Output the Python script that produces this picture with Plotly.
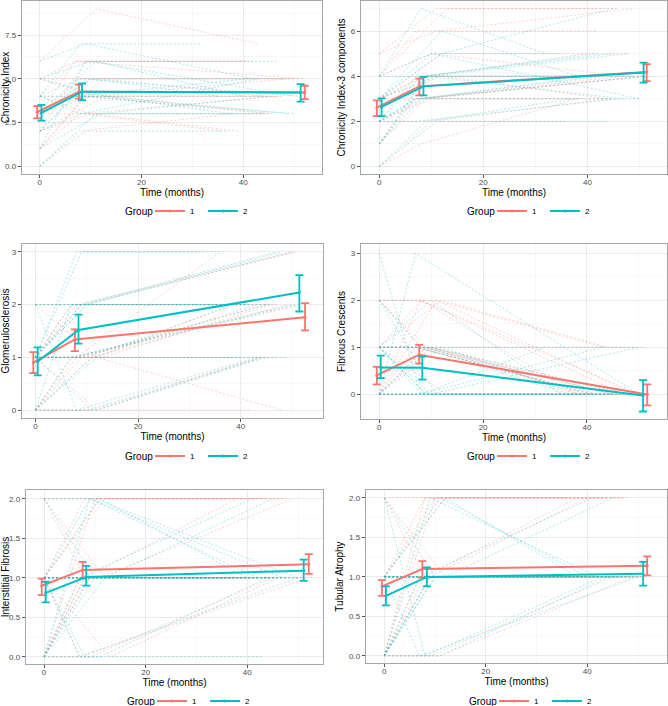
import plotly.graph_objects as go

# ---------------- data ----------------
panel_titles = ["Chronicity Index", "Chronicity Index-3 components", "Glomerulosclerosis",
                "Fibrous Crescents", "Interstitial Fibrosis", "Tubular Atrophy"]
groups = ["1", "2"]
legend_title = "Group"
x_title = "Time (months)"

# individual patient biopsy times (months)
times_g1 = [[0, 11, 43], [0, 7, 42], [0, 8, 50], [0, 10, 39], [0, 9, 45], [0, 12, 48],
            [0, 7, 41], [0, 8, 38], [0, 13, 46], [0, 9, 51], [0, 10, 44], [0, 8, 47],
            [0, 9, 40], [0, 11, 49], [0, 8, 36], [0, 12, 44], [0, 7, 52], [0, 10, 47]]
times_g2 = [[0, 8, 32], [0, 9, 42], [0, 7, 50], [0, 10, 48], [0, 12, 45], [0, 8, 51],
            [0, 9, 37], [0, 11, 40], [0, 7, 46], [0, 13, 49], [0, 8, 43], [0, 10, 35],
            [0, 9, 47], [0, 12, 38], [0, 8, 45], [0, 10, 50], [0, 11, 44], [0, 7, 41]]

# individual patient scores per panel
ci_g1 = [[6, 9, 7], [5, 6, 6], [3, 5, 5], [2, 3, 2], [1, 4, 3], [4, 4, 4],
         [3, 6, 6], [0, 2, 3], [2, 4, 3], [5, 5, 5], [4, 3, 3], [1, 3, 4],
         [2, 6, 6], [5, 4, 5], [3, 3, 2], [1, 5, 4], [4, 6, 5], [3, 4, 4]]
ci_g2 = [[4, 7, 7], [6, 7, 5], [3, 4, 3], [2, 5, 5], [1, 3, 4], [4, 5, 4],
         [0, 2, 2], [3, 6, 4], [2, 4, 4], [5, 4, 3], [4, 3, 5], [3, 5, 4],
         [1, 6, 6], [4, 4, 3], [2, 3, 3], [5, 6, 4], [0, 3, 3], [3, 4, 5]]
ci3_g1 = [[5, 7, 7], [4, 6, 6], [3, 4, 4], [2, 3, 3], [1, 3, 3], [3, 5, 5],
          [2, 4, 4], [0, 1, 3], [4, 7, 7], [2, 3, 4], [0, 2, 3], [3, 3, 4],
          [1, 4, 5], [5, 6, 7], [2, 2, 2], [3, 4, 3], [1, 3, 4], [4, 5, 4]]
ci3_g2 = [[4, 7, 5], [3, 4, 5], [2, 3, 3], [1, 4, 5], [3, 5, 7], [2, 3, 4],
          [0, 2, 3], [3, 4, 4], [2, 2, 3], [4, 4, 4], [1, 3, 4], [3, 5, 5],
          [1, 4, 3], [3, 6, 4], [2, 4, 5], [4, 5, 3], [0, 2, 2], [2, 3, 4]]
gs_g1 = [[1, 1, 2], [0, 0, 0], [1, 2, 3], [1, 1, 2], [0, 1, 2], [2, 1, 0],
         [1, 2, 2], [0, 1, 1], [1, 1, 2], [1, 2, 3], [0, 0, 1], [1, 1, 1],
         [1, 2, 2], [0, 1, 2], [1, 1, 3], [1, 0, 1], [0, 1, 2], [2, 2, 2]]
gs_g2 = [[1, 3, 3], [2, 2, 2], [0, 1, 2], [1, 2, 3], [0, 0, 1], [1, 1, 2],
         [1, 3, 3], [0, 1, 1], [1, 2, 2], [1, 1, 1], [2, 0, 1], [1, 2, 2],
         [1, 2, 3], [0, 1, 2], [1, 1, 2], [2, 2, 3], [1, 0, 1], [0, 2, 2]]
fc_g1 = [[2, 2, 1], [0, 1, 0], [1, 2, 0], [0, 1, 0], [2, 1, 0], [0, 0, 0],
         [1, 1, 0], [0, 2, 0], [1, 0, 0], [0, 1, 1], [0, 1, 0], [2, 2, 0],
         [1, 1, 0], [0, 2, 0], [2, 1, 0], [1, 2, 1], [0, 0, 0], [1, 1, 0]]
fc_g2 = [[3, 0, 1], [1, 0, 0], [0, 3, 0], [1, 1, 0], [0, 0, 0], [1, 0, 0],
         [0, 1, 0], [2, 0, 0], [0, 0, 0], [1, 1, 1], [0, 0, 1], [1, 2, 0],
         [1, 0, 0], [0, 1, 0], [2, 1, 0], [1, 0, 1], [0, 0, 0], [1, 1, 0]]
if_g1 = [[1, 2, 2], [0, 1, 1], [2, 1, 1], [1, 1, 1], [0, 0, 1], [1, 2, 2],
         [1, 1, 1], [0, 1, 2], [1, 0, 1], [1, 1, 1], [2, 2, 2], [0, 1, 1],
         [0, 1, 1], [1, 1, 2], [1, 2, 2], [2, 1, 1], [1, 0, 1], [0, 2, 2]]
if_g2 = [[1, 1, 1], [0, 2, 1], [1, 0, 1], [0, 1, 1], [1, 1, 2], [1, 1, 1],
         [0, 1, 1], [1, 2, 1], [0, 1, 1], [1, 1, 1], [1, 0, 0], [2, 1, 1],
         [1, 2, 1], [0, 1, 1], [1, 1, 1], [2, 2, 1], [0, 0, 1], [1, 1, 2]]
ta_g1 = [[2, 2, 2], [0, 1, 1], [2, 1, 1], [1, 1, 1], [0, 0, 1], [1, 2, 2],
         [1, 1, 1], [0, 1, 2], [1, 1, 1], [0, 1, 1], [1, 2, 2], [0, 2, 2],
         [1, 1, 2], [0, 0, 1], [1, 2, 2], [2, 1, 1], [1, 1, 1], [0, 2, 2]]
ta_g2 = [[1, 1, 1], [0, 2, 1], [1, 0, 1], [0, 1, 1], [1, 1, 2], [1, 1, 1],
         [0, 1, 1], [1, 2, 1], [0, 1, 1], [1, 1, 1], [2, 0, 1], [0, 1, 1],
         [0, 1, 1], [1, 2, 1], [1, 1, 1], [2, 1, 1], [0, 0, 1], [1, 1, 2]]
indiv_g1 = [ci_g1, ci3_g1, gs_g1, fc_g1, if_g1, ta_g1]
indiv_g2 = [ci_g2, ci3_g2, gs_g2, fc_g2, if_g2, ta_g2]

# group means and error bars (x = mean time per visit)
mean_x_g1 = [[-0.5, 7.7, 52.1], [-0.45, 7.7, 51.4], [-0.4, 7.7, 52.5],
             [-0.45, 7.7, 51.6], [-0.46, 7.6, 52.1], [-0.46, 7.5, 51.8]]
mean_x_g2 = [[0.33, 8.3, 51.3], [0.45, 8.5, 50.8], [0.45, 8.4, 51.4],
             [0.3, 8.3, 50.8], [0.33, 8.3, 51.1], [0.33, 8.4, 51.0]]
mean_y_g1 = [[3.09, 4.26, 4.22], [2.61, 3.55, 4.19], [0.90, 1.34, 1.76],
             [0.40, 0.84, -0.01], [0.90, 1.10, 1.17], [0.88, 1.10, 1.14]]
mean_y_g2 = [[3.05, 4.26, 4.22], [2.64, 3.55, 4.16], [0.92, 1.52, 2.23],
             [0.57, 0.56, -0.03], [0.81, 1.01, 1.09], [0.76, 1.00, 1.04]]
hi_g1 = [[3.43, 4.67, 4.60], [2.93, 3.89, 4.53], [1.10, 1.53, 2.03],
         [0.58, 1.05, 0.21], [0.99, 1.20, 1.30], [0.96, 1.20, 1.26]]
lo_g1 = [[2.73, 3.86, 3.83], [2.23, 3.15, 3.78], [0.70, 1.12, 1.51],
         [0.21, 0.65, -0.24], [0.78, 0.99, 1.05], [0.76, 0.99, 1.02]]
hi_g2 = [[3.50, 4.73, 4.69], [3.02, 3.97, 4.60], [1.19, 1.81, 2.56],
         [0.82, 0.80, 0.30], [0.95, 1.15, 1.23], [0.88, 1.12, 1.19]]
lo_g2 = [[2.60, 3.77, 3.69], [2.23, 3.15, 3.72], [0.66, 1.26, 1.87],
         [0.34, 0.31, -0.37], [0.69, 0.90, 0.96], [0.64, 0.88, 0.89]]

x_ticks = [0, 20, 40]
y_ticks = [[0, 2.5, 5, 7.5], [0, 2, 4, 6], [0, 1, 2, 3], [0, 1, 2, 3],
           [0, 0.5, 1, 1.5, 2], [0, 0.5, 1, 1.5, 2]]
y_ticklabels = [["0.0", "2.5", "5.0", "7.5"], ["0", "2", "4", "6"], ["0", "1", "2", "3"],
                ["0", "1", "2", "3"], ["0.0", "0.5", "1.0", "1.5", "2.0"],
                ["0.0", "0.5", "1.0", "1.5", "2.0"]]

# ---------------- layout geometry ----------------
W, H = 668, 706
colors = ["#F8766D", "#00BFC4"]
faint = ["rgba(248,118,109,0.42)", "rgba(0,191,196,0.42)"]
# pixel boxes: (left, right, top, bottom)
boxes = [(22, 322, 1, 174), (361, 667, 1, 174), (22, 323, 244, 418),
         (361, 667, 244, 419), (26, 323, 490, 664), (366, 667, 490, 663)]
x_ranges = [[-3.5, 55.5], [-3.5, 55.3], [-2.6, 56.0], [-3.5, 55.4], [-3.55, 54.9], [-3.6, 55.7]]
y_ranges = [[-0.45, 9.45], [-0.33, 7.33], [-0.15, 3.15], [-0.53, 3.2], [-0.09, 2.11], [-0.09, 2.1]]
y_minor = [1.25, 1, 0.5, 0.5, 0.25, 0.25]
legend_y_px = [211, 211, 456, 456, 701, 701]

fig = go.Figure()
layout = dict(width=W, height=H, margin=dict(l=0, r=0, t=0, b=0, autoexpand=False),
              paper_bgcolor="white", plot_bgcolor="white", hovermode=False,
              font=dict(family="Liberation Sans, Arial, sans-serif", color="black"))
annotations = []

for p in range(6):
    k = "" if p == 0 else str(p + 1)
    xa, ya = "x" + k, "y" + k
    lg = "legend" + k
    times_all = [times_g1, times_g2]
    indiv_all = [indiv_g1[p], indiv_g2[p]]
    for g in range(2):
        for t, v in zip(times_all[g], indiv_all[g]):
            fig.add_trace(go.Scatter(x=t, y=v, mode="lines", xaxis=xa, yaxis=ya,
                                     line=dict(color=faint[g], width=0.8, dash="2px,2px"),
                                     showlegend=False, hoverinfo="skip"))
    mx = [mean_x_g1[p], mean_x_g2[p]]
    my = [mean_y_g1[p], mean_y_g2[p]]
    hi = [hi_g1[p], hi_g2[p]]
    lo = [lo_g1[p], lo_g2[p]]
    for g in range(2):
        ep = [h - m for h, m in zip(hi[g], my[g])]
        em = [m - l for m, l in zip(my[g], lo[g])]
        fig.add_trace(go.Scatter(
            x=mx[g], y=my[g], mode="lines+markers", name=groups[g], xaxis=xa, yaxis=ya,
            line=dict(color=colors[g], width=2), marker=dict(color=colors[g], size=3),
            error_y=dict(type="data", symmetric=False, array=ep, arrayminus=em,
                         color=colors[g], thickness=1.8, width=4),
            legend=lg, showlegend=True))

    l, r, t, b = boxes[p]
    xdom = [l / W, r / W]
    ydom = [1 - b / H, 1 - t / H]
    axis_common = dict(showline=True, linecolor="#A6A6A6", linewidth=1.2, mirror=True,
                       showgrid=True, gridcolor="#EBEBEB", gridwidth=1,
                       ticks="outside", ticklen=3, tickcolor="#555555",
                       tickfont=dict(size=8, color="#4D4D4D"), zeroline=False,
                       automargin=False)
    layout["xaxis" + k] = dict(domain=xdom, range=x_ranges[p], anchor=ya,
                               tickvals=x_ticks, ticktext=[str(v) for v in x_ticks],
                               ticklabelstandoff=-3,
                               title=dict(text=x_title, font=dict(size=10), standoff=0),
                               minor=dict(tickvals=[10, 30, 50], showgrid=True,
                                          gridcolor="#F3F3F3", gridwidth=0.6, ticks=""),
                               **axis_common)
    yt = y_ticks[p]
    ymin = [v + y_minor[p] for v in yt[:-1]]
    ymin = [yt[0] - y_minor[p]] + ymin + [yt[-1] + y_minor[p]]
    layout["yaxis" + k] = dict(domain=ydom, range=y_ranges[p], anchor=xa,
                               tickvals=yt, ticktext=y_ticklabels[p],
                               title=dict(text=panel_titles[p], font=dict(size=10), standoff=3),
                               minor=dict(tickvals=ymin, showgrid=True,
                                          gridcolor="#F3F3F3", gridwidth=0.6, ticks=""),
                               **axis_common)
    cx = round((l + r) / 2)
    ly = 1 - legend_y_px[p] / H
    layout[lg] = dict(orientation="h", x=(cx - 22) / W, xanchor="left",
                      y=ly, yanchor="middle", font=dict(size=8),
                      bgcolor="rgba(0,0,0,0)", itemwidth=30, tracegroupgap=0,
                      borderwidth=0, entrywidth=8, entrywidthmode="pixels")
    annotations.append(dict(text=legend_title, x=(cx - 17) / W, y=ly, xref="paper",
                            yref="paper", xanchor="right", yanchor="middle",
                            showarrow=False, font=dict(size=10)))

layout["annotations"] = annotations
fig.update_layout(**layout)
fig.write_html("out.html", config={"displayModeBar": False, "staticPlot": True},
               post_script="document.body.style.margin='0px';")
